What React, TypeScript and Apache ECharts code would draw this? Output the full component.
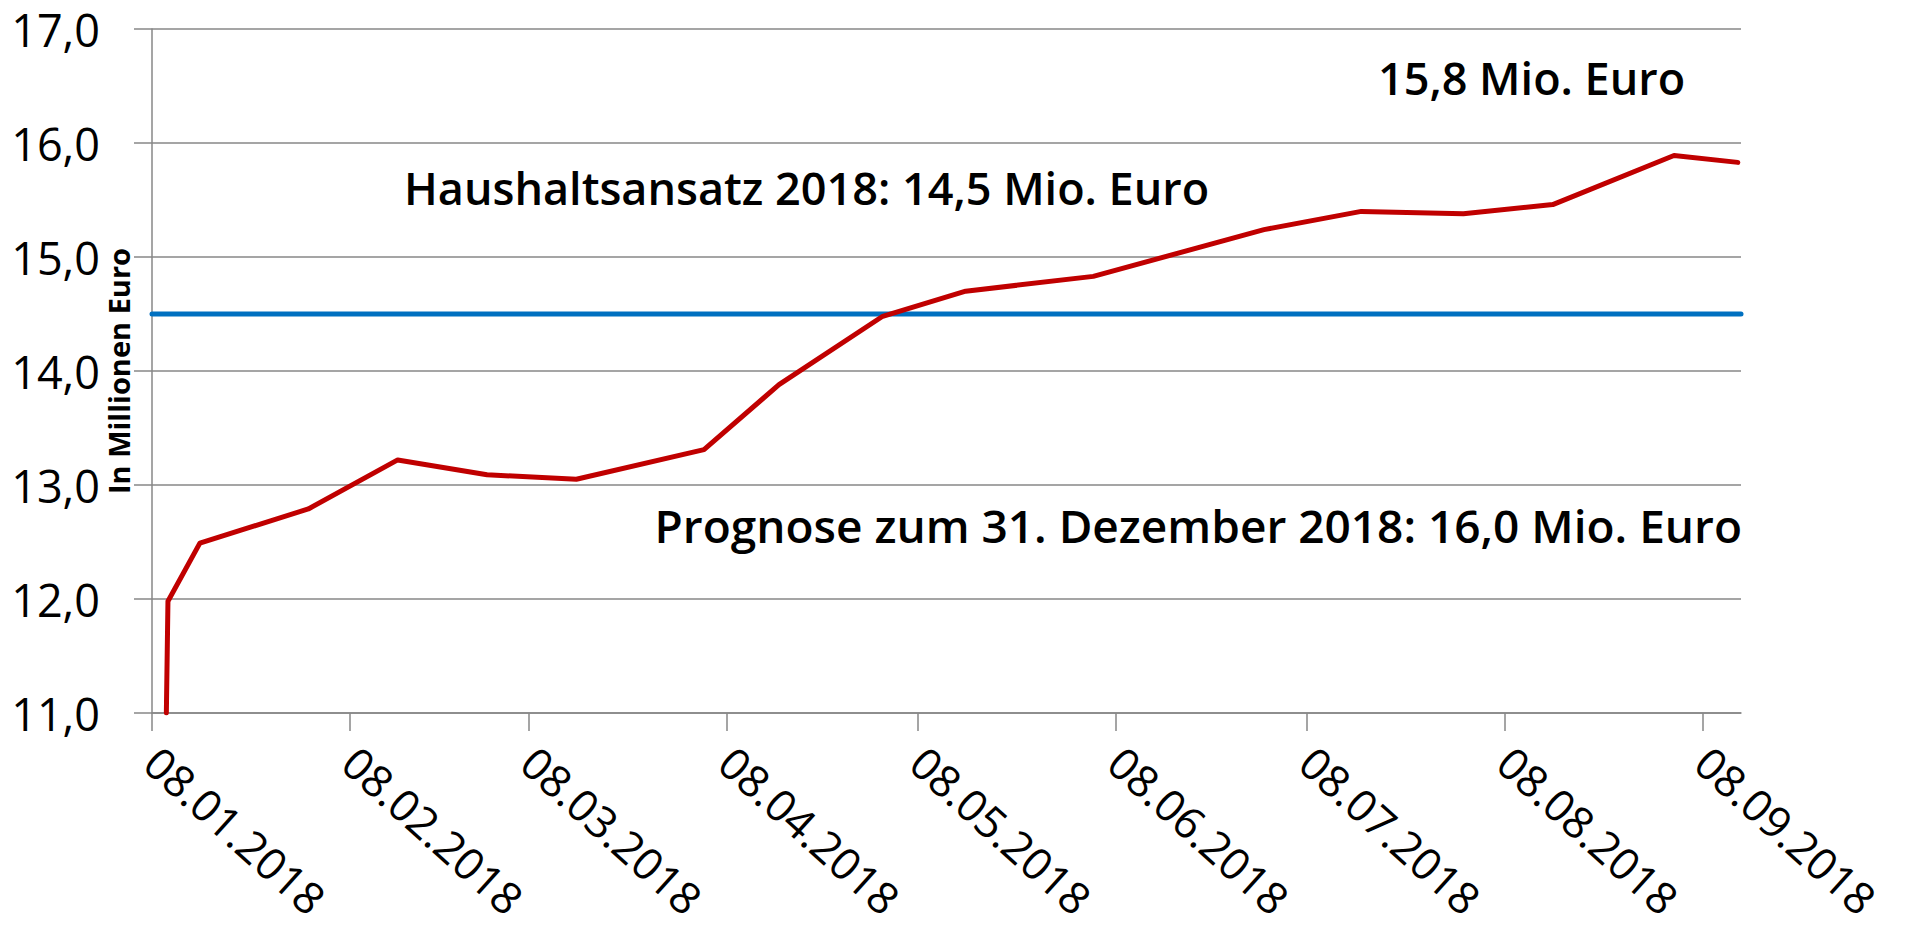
import React, { useEffect, useRef } from "react";
import * as echarts from "echarts";

// ---- data ----
const pointDates: string[] = [
  "2018-01-10T06:00",
  "2018-01-10T12:00",
  "2018-01-15T12:00",
  "2018-02-01T12:00",
  "2018-02-15T12:00",
  "2018-03-01T12:00",
  "2018-03-15T12:00",
  "2018-04-04T12:00",
  "2018-04-16T06:00",
  "2018-05-02T12:00",
  "2018-05-15T12:00",
  "2018-06-04T12:00",
  "2018-07-01T06:00",
  "2018-07-16T12:00",
  "2018-08-01T12:00",
  "2018-08-15T12:00",
  "2018-09-03T12:00",
  "2018-09-13T12:00",
];
const pointValues: number[] = [
  11.0, 11.98, 12.49, 12.79, 13.22, 13.09, 13.05, 13.31, 13.88, 14.48, 14.7,
  14.83, 15.24, 15.4, 15.38, 15.46, 15.89, 15.83,
];
const budgetValue = 14.5;
const tickDates: string[] = [
  "2018-01-08T00:00",
  "2018-02-08T00:00",
  "2018-03-08T00:00",
  "2018-04-08T00:00",
  "2018-05-08T00:00",
  "2018-06-08T00:00",
  "2018-07-08T00:00",
  "2018-08-08T00:00",
  "2018-09-08T00:00",
];
const axisStart = "2018-01-08T00:00";
const axisEnd = "2018-09-14T00:00";
const yMin = 11;
const yMax = 17;
const yStep = 1;
const yAxisTitle = "In Millionen Euro";
const noteBudget = "Haushaltsansatz 2018: 14,5 Mio. Euro";
const noteCurrent = "15,8 Mio. Euro";
const noteForecast = "Prognose zum 31. Dezember 2018: 16,0 Mio. Euro";

const FONT = "'Open Sans', 'Noto Sans', sans-serif";
const DAY = 86400000;
const originMs = new Date(axisStart).getTime();

// days since axis start (so the value axis can carry monthly custom ticks)
function dayOf(s: string): number {
  return (new Date(s).getTime() - originMs) / DAY;
}

function fmtDay(v: number): string {
  const d = new Date(originMs + v * DAY + 3600000);
  const dd = String(d.getDate()).padStart(2, "0");
  const mm = String(d.getMonth() + 1).padStart(2, "0");
  return `${dd}.${mm}.${d.getFullYear()}`;
}

export default function App() {
  const ref = useRef<HTMLDivElement>(null);

  useEffect(() => {
    if (!ref.current) return;
    const chart = echarts.init(ref.current, undefined, { renderer: "svg" });
    const ticks = tickDates.map(dayOf);
    const gray = "#878787";
    const noteStyle = {
      fontSize: 45,
      fontWeight: 600,
      fontFamily: FONT,
      fill: "#000",
      verticalAlign: "middle",
    };
    const option: any = {
      animation: false,
      backgroundColor: "#ffffff",
      grid: {
        left: 152,
        right: 167,
        top: 29,
        bottom: 217,
        containLabel: false,
        outerBoundsMode: "none",
      },
      xAxis: {
        type: "value",
        min: 0,
        max: dayOf(axisEnd),
        axisLine: { show: true, lineStyle: { color: gray, width: 1.5 } },
        axisTick: {
          show: true,
          length: 18,
          customValues: ticks,
          lineStyle: { color: gray, width: 1.5 },
        },
        axisLabel: {
          show: true,
          customValues: ticks,
          rotate: -42,
          margin: 42,
          hideOverlap: false,
          showMinLabel: true,
          showMaxLabel: true,
          fontSize: 44,
          fontFamily: FONT,
          color: "#000",
          formatter: (v: number) => fmtDay(v),
        },
        splitLine: { show: false },
        minorTick: { show: false },
      },
      yAxis: {
        type: "value",
        min: yMin,
        max: yMax,
        interval: yStep,
        name: yAxisTitle,
        nameLocation: "middle",
        nameRotate: 90,
        nameGap: 19,
        nameMoveOverlap: false,
        nameTextStyle: {
          fontSize: 29,
          fontWeight: "bold",
          fontFamily: FONT,
          color: "#000",
        },
        axisLine: { show: true, lineStyle: { color: gray, width: 1.5 } },
        axisTick: { show: true, length: 18, lineStyle: { color: gray, width: 1.5 } },
        axisLabel: {
          margin: 52,
          fontSize: 45,
          fontFamily: FONT,
          color: "#000",
          formatter: (v: number) => v.toFixed(1).replace(".", ","),
        },
        splitLine: { show: true, lineStyle: { color: gray, width: 1.5 } },
      },
      series: [
        {
          type: "line",
          data: [
            [0, budgetValue],
            [dayOf(axisEnd), budgetValue],
          ],
          showSymbol: false,
          silent: true,
          lineStyle: { color: "#0070C0", width: 5, cap: "round" },
          z: 2,
        },
        {
          type: "line",
          data: pointDates.map((d, i) => [dayOf(d), pointValues[i]]),
          showSymbol: false,
          silent: true,
          lineStyle: { color: "#C00000", width: 5, cap: "round", join: "round" },
          z: 3,
        },
      ],
      graphic: [
        {
          type: "text",
          x: 404,
          y: 187,
          style: { ...noteStyle, text: noteBudget, align: "left" },
        },
        {
          type: "text",
          x: 1378,
          y: 77,
          style: { ...noteStyle, text: noteCurrent, align: "left" },
        },
        {
          type: "text",
          x: 1742,
          y: 525,
          style: { ...noteStyle, fontSize: 46, text: noteForecast, align: "right" },
        },
      ],
    };
    chart.setOption(option);
    return () => chart.dispose();
  }, []);

  return (
    <div
      ref={ref}
      style={{ position: "fixed", left: 0, top: 0, width: 1908, height: 930, background: "#fff" }}
    />
  );
}
